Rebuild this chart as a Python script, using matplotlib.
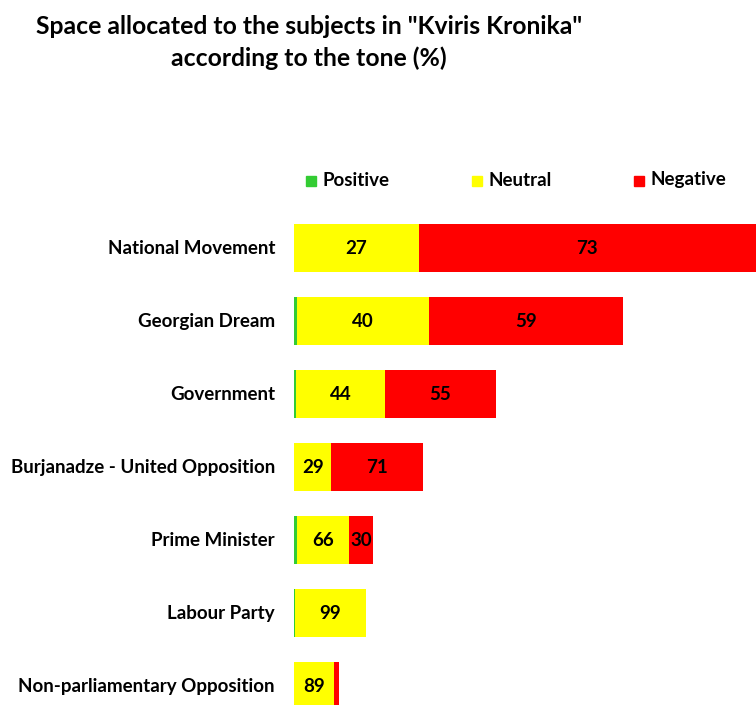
import matplotlib
matplotlib.use("Agg")
import matplotlib.pyplot as plt
from matplotlib.patches import Rectangle
import numpy as np

categories = ["National Movement", "Georgian Dream", "Government",
              "Burjanadze - United Opposition", "Prime Minister",
              "Labour Party", "Non-parliamentary Opposition"]
positive = [0, 1, 1, 0, 4, 1, 0]
neutral = [27, 40, 44, 29, 66, 99, 89]
negative = [73, 59, 55, 71, 30, 0, 11]
# total space (relative units) allocated to each subject
total_space = [462, 329, 202, 129, 79, 72, 45]
series_names = ["Positive", "Neutral", "Negative"]
colors = ["#33CC33", "#FFFF00", "#FF0000"]

plt.rcParams['font.family'] = ['Lato', 'DejaVu Sans']

fig = plt.figure(figsize=(7.56, 7.05), dpi=100)
ax = fig.add_axes([294/756, 0.0, 1 - 294/756, (705 - 211.5)/705])

y = np.arange(len(categories))
tot = np.array(total_space, dtype=float)
left = np.zeros(len(categories))
for vals, col in zip([positive, neutral, negative], colors):
    vals = np.array(vals, dtype=float)
    w = vals / 100.0 * tot
    ax.barh(y, w, left=left, height=0.66, color=col, edgecolor='none')
    for yi, (l, wi, v) in enumerate(zip(left, w, vals)):
        if v >= 20:
            ax.text(l + wi / 2, yi, f"{int(v)}", ha='center', va='center',
                    fontsize=13.5, fontweight='bold', color='black')
    left = left + w

ax.set_xlim(0, 462)
ax.set_ylim(6.26, -0.5)
ax.axis('off')

for yi, c in zip(y, categories):
    ax.text(-19, yi, c, ha='right', va='center', fontsize=13.5, fontweight='bold')

# legend
leg_x = [306, 472, 634]
for xpix, name, col in zip(leg_x, series_names, colors):
    fig.patches.append(Rectangle((xpix/756, 1 - 186/705), 10/756, 10/705,
                                 transform=fig.transFigure, color=col))
    fig.text((xpix + 16)/756, 1 - 180/705, name, ha='left', va='center',
             fontsize=13.5, fontweight='bold')

fig.text(309/756, 1 - 27/705, 'Space allocated to the subjects in "Kviris Kronika"',
         ha='center', va='center', fontsize=17.8, fontweight='bold')
fig.text(309/756, 1 - 58/705, 'according to the tone (%)',
         ha='center', va='center', fontsize=17.8, fontweight='bold')

fig.savefig("out.png", dpi=100)
